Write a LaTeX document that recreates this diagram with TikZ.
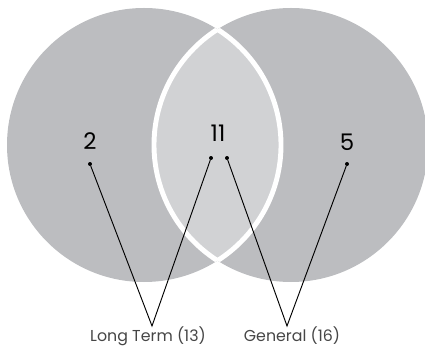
\documentclass[tikz,border=0pt]{standalone}
\usepackage{fontspec}
\setmainfont{Poppins}
\usepackage{tikz}
\definecolor{outergray}{RGB}{188,189,192}
\definecolor{innergray}{RGB}{209,210,212}
\definecolor{labelgray}{RGB}{70,70,70}
\tikzstyle{count}=[font=\fontsize{19.5}{20}\selectfont, text=black, inner sep=0pt]
\tikzstyle{setname}=[font=\fontsize{13.5}{14}\selectfont, text=labelgray, inner sep=0pt, anchor=base]
\tikzstyle{pin}=[circle, fill=black, inner sep=0pt, minimum size=3.4pt]
\tikzstyle{leader}=[draw=black, line width=0.8pt]

\begin{document}
\begin{tikzpicture}[x=0.03cm, y=-0.03cm]
\useasboundingbox (0,0) rectangle (425,347);

% the two sets
\begin{scope}
\clip (0,0) rectangle (425,347);
\fill[outergray] (144,145) circle (137);
\fill[outergray] (291,145) circle (137);
\begin{scope}
\clip (144,145) circle (137);
\fill[innergray] (291,145) circle (137);
\draw[white, line width=4.2pt] (291,145) circle (137);
\end{scope}
\begin{scope}
\clip (291,145) circle (137);
\draw[white, line width=4.2pt] (144,145) circle (137);
\end{scope}
\end{scope}

% counts
\node[count] (onlylong) at (90,141) {2};
\node[count] (both) at (218,133) {11};
\node[count] (onlygen) at (347,142) {5};

\node[pin] (p1) at (90,164) {};
\node[pin] (p2) at (211,158) {};
\node[pin] (p3) at (227,158) {};
\node[pin] (p4) at (347,164) {};

% set names
\coordinate (longtip) at (152,326);
\coordinate (gentip) at (287,326);
\node[setname] (longterm) at (148,341) {Long Term (13)};
\node[setname] (general) at (292,341) {General (16)};

\draw[leader] (p1) -- (longtip) -- (p2);
\draw[leader] (p3) -- (gentip) -- (p4);
\end{tikzpicture}
\end{document}
